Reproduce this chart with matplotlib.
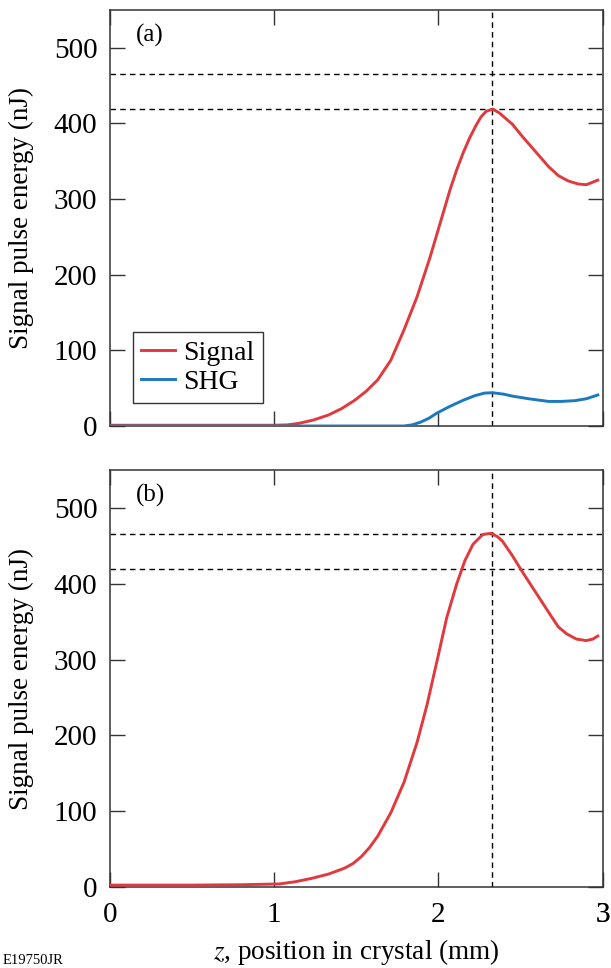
import matplotlib
matplotlib.use("Agg")
import matplotlib.pyplot as plt

plt.rcParams['font.family'] = ['Liberation Serif', 'DejaVu Serif']
plt.rcParams['mathtext.fontset'] = 'stix'

# ---- data ----
sig_a_x = [0.0, 0.5, 1.0, 1.08, 1.15, 1.24, 1.33, 1.41, 1.49, 1.56, 1.63, 1.71, 1.79, 1.87,
           1.95, 2.01, 2.07, 2.11, 2.15, 2.19, 2.23, 2.26, 2.29, 2.33, 2.37, 2.45, 2.51,
           2.59, 2.67, 2.73, 2.79, 2.85, 2.9, 2.97]
sig_a_y = [1, 1, 1, 1.5, 3.5, 8, 14.5, 23, 34, 46, 61, 87, 127, 171,
           224, 268, 312, 338, 361, 381, 398, 409, 416, 419, 414, 399, 383,
           363, 343, 331, 324, 320, 319, 325]

shg_a_x = [0.0, 1.0, 1.79, 1.84, 1.89, 1.94, 1.99, 2.07, 2.15, 2.22, 2.28, 2.33, 2.4,
           2.45, 2.55, 2.67, 2.75, 2.83, 2.9, 2.97]
shg_a_y = [0, 0, 0, 1.5, 5, 10, 17, 26, 34, 40, 43.5, 44, 42,
           39.5, 36, 32.5, 32.5, 33.5, 36, 41]

sig_b_x = [0.0, 0.5, 0.8, 1.03, 1.13, 1.23, 1.33, 1.43, 1.48, 1.53, 1.58, 1.63, 1.71, 1.79,
           1.87, 1.93, 1.99, 2.05, 2.11, 2.16, 2.21, 2.27, 2.32, 2.36, 2.39, 2.45, 2.51,
           2.57, 2.63, 2.69, 2.73, 2.78, 2.84, 2.9, 2.94, 2.97]
sig_b_y = [2.5, 2.5, 3, 4, 7, 11.5, 17, 25, 31, 40, 52, 67, 98, 138,
           191, 240, 297, 355, 399, 430, 452, 465, 466.5, 462, 456, 437, 416,
           396, 376, 356, 343, 334, 327, 325, 327, 331]

peak_z = 2.325
ref_levels = [466, 419]
panel_labels = ['(a)', '(b)']
xticks = [0, 1, 2, 3]
yticks = [0, 100, 200, 300, 400, 500]
x_max = 2.97

RED = '#e0393e'
BLUE = '#1b79be'
SPINE = '#333333'

W, H = 611, 968
fig = plt.figure(figsize=(W / 100, H / 100), dpi=100)
left = 110 / W
width = 492.7 / W
ax_a = fig.add_axes([left, 1 - 426 / H, width, 416 / H])
ax_b = fig.add_axes([left, 1 - 887 / H, width, 417 / H])

for ax in (ax_a, ax_b):
    ax.set_xlim(0, x_max)
    ax.set_ylim(0, 550)
    ax.set_xticks(xticks)
    ax.set_yticks(yticks)
    ax.tick_params(direction='in', length=10.5, width=1.0, color=SPINE,
                   top=True, right=True, labelsize=21)
    ax.tick_params(axis='y', pad=9)
    ax.tick_params(axis='x', pad=11)
    for s in ax.spines.values():
        s.set_color(SPINE)
        s.set_linewidth(1.1)
    for lv in ref_levels:
        ax.axhline(lv, color='black', linestyle=(0, (4, 3)), linewidth=1.0, zorder=1)
    ax.axvline(peak_z, color='black', linestyle=(0, (4, 3)), linewidth=1.0, zorder=1)
    ax.set_ylabel('Signal pulse energy (nJ)', fontsize=19.5, labelpad=14)

ax_a.plot(sig_a_x, sig_a_y, color=RED, linewidth=2.1, label='Signal', zorder=3)
ax_a.plot(shg_a_x, shg_a_y, color=BLUE, linewidth=2.1, label='SHG', zorder=4)
ax_a.tick_params(labelbottom=False)
leg = ax_a.legend(loc='lower left', bbox_to_anchor=(0.047, 0.055), fontsize=20,
                  frameon=True, fancybox=False, edgecolor='black',
                  handlelength=1.2, handletextpad=0.3, borderpad=0.3,
                  labelspacing=0.12, borderaxespad=0)
leg.get_frame().set_linewidth(1.0)

ax_b.plot(sig_b_x, sig_b_y, color=RED, linewidth=2.1, zorder=3)
ax_b.set_xlabel('$z$, position in crystal (mm)', fontsize=19.5, labelpad=6)

# last tick label sits just past the right spine in the reference
ax_b.annotate(str(xticks[-1]), xy=(xticks[-1], 0), xycoords=('data', 'axes fraction'),
              xytext=(0, -11 * 100 / 72), textcoords='offset pixels',
              ha='center', va='top', fontsize=21, annotation_clip=False)

for ax, lab in zip((ax_a, ax_b), panel_labels):
    ax.text(0.052, 0.94, lab, transform=ax.transAxes, fontsize=18, va='center', ha='left')

fig.text(0.004, 1 - 954 / H, 'E19750JR', fontsize=10.5, va='top', ha='left')

fig.savefig('out.png', dpi=100)
